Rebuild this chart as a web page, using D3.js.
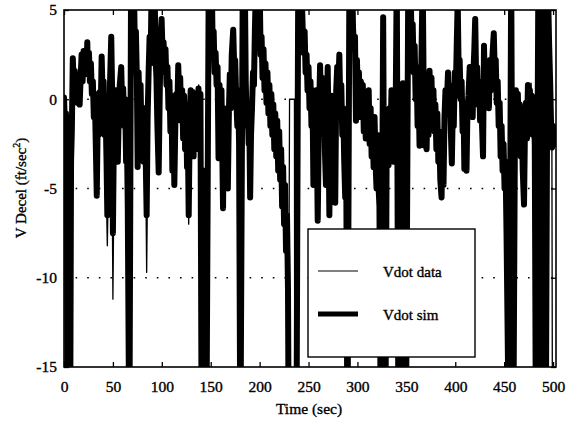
<!DOCTYPE html>
<html>
<head>
<meta charset="utf-8">
<script src="https://cdn.jsdelivr.net/npm/d3@7"></script>
<style>
  html, body { margin: 0; padding: 0; background: #fff; }
  svg { display: block; }
  text { font-family: "Liberation Serif", "Times New Roman", serif; fill: #000; }
  .lbl { stroke: #000; stroke-width: 0.35px; }
</style>
</head>
<body>
<svg id="chart" width="577" height="426"></svg>
<script>
// Axis ticks and reference levels
const xTicks = [0, 50, 100, 150, 200, 250, 300, 350, 400, 450, 500];
const yTicks = [-15, -10, -5, 0, 5];
const gridLevels = [-10, -5, 0];
const seriesNames = ["Vdot data", "Vdot sim"];

// Simulated deceleration, [time (sec), Vdot (ft/sec^2)]; excursions past the limits are clipped by the axes
const vdotSim = [
  [0, 0.1], [1, -1.5], [2, -0.8], [3, -4.5], [4.2, -20], [6.2, -20], [7.2, -3.5], [8, -1.8], [9, 2.3], [10, 0.8],
  [11, 1.6], [12, 0.0], [13, 1.0], [14, -0.2], [15, 0.9], [16, -0.3], [17, 1.2], [18, 2.5], [19, 1.0], [20, 2.7],
  [21, 1.4], [22, 2.6], [23, 1.6], [23.8, 3.2], [24.5, 1.4], [25.5, 2.6], [26.5, 1.0], [27.5, 2.0], [28.5, 0.3], [29.5, 1.0],
  [30.5, -1.0], [31.5, 0.3], [32.5, -2.5], [33.5, -5.4], [34.5, -1.0], [35.5, -2.0], [36.5, 0.4], [37.5, -0.8], [38.5, 2.4], [39.5, 0.2],
  [40.5, 1.0], [41.5, -2.0], [42.5, -0.5], [43.5, -3.5], [44.3, -6.5], [45.2, -2.0], [46, -4.0], [47, 0.8], [48.3, 3.5], [49.2, 0.5],
  [50, -7.5], [51, -2.0], [52, -3.5], [53, 0.5], [54, -1.5], [55, -3.5], [56, -0.8], [57, 0.8], [58.5, 1.8], [59.5, -0.5],
  [60.5, 0.6], [61.5, -1.5], [62.5, 0.0], [63.5, -3.5], [64.3, -2.0], [65.2, -6.0], [66.8, -20], [68.6, 7], [70.5, 5.5], [71.5, 6.5],
  [72.5, 2.5], [73.5, 3.8], [74.5, 1.2], [75.3, -3.8], [76.3, 1.5], [77.3, -1.5], [78.3, 0.8], [79.3, -2.5], [80.3, -1.0], [81.3, -3.5],
  [82.3, -0.5], [83.3, -2.5], [84.5, -6.5], [85.5, -1.0], [86.5, 1.5], [87.5, 3.5], [88.5, 2.0], [89.8, 7], [91.2, 5.5], [92.5, 7],
  [93.5, 2.5], [94.5, 1.2], [95.5, -1.5], [96.8, -4.1], [97.8, 0.0], [98.8, 3.5], [99.8, 4.5], [100.8, 2.5], [101.8, 3.2], [102.8, 1.5],
  [103.8, 2.8], [104.8, 0.8], [105.8, 1.8], [106.8, -0.5], [107.8, 1.0], [108.8, -1.8], [109.8, 0.2], [110.8, -4.0], [111.8, -0.8], [112.8, -4.8],
  [113.8, -1.5], [114.8, 0.3], [115.8, -0.8], [116.8, 1.9], [117.8, 0.0], [118.8, 1.2], [119.8, -1.2], [120.8, 0.5], [121.8, -2.2], [122.8, 0.2],
  [123.8, -2.8], [124.8, -0.3], [125.8, -3.8], [126.6, -2.0], [127.5, -6.5], [128.5, -1.5], [129.5, 0.5], [130.5, -2.0], [131.5, 0.4], [132.5, -3.2],
  [133.5, 0.2], [134.5, -2.8], [135.5, -0.5], [136.5, -1.8], [137.5, 0.6], [138.5, -2.0], [139.5, 0.3], [140.8, -20], [143.5, -4.0], [145.5, -20],
  [148, 7], [151, 7], [152, 2.8], [153, 3.8], [154, 1.5], [155, 2.6], [156, 0.8], [157, 1.8], [158, -3.3], [159, 0.8],
  [160, -0.8], [161, 0.5], [162.6, -6.1], [163.5, -0.5], [164.5, -3.5], [165.5, -0.8], [166.5, -3.0], [167.5, -5.0], [168.5, -1.0], [169.5, 1.4],
  [170.5, -0.5], [171.5, 2.5], [173, 3.9], [174, 1.8], [175, 2.2], [176, 0.2], [177.2, -1.5], [178, 0.5], [179, -2.5], [180.3, -20],
  [182.8, 7], [184.8, 7], [185.8, 1.0], [186.8, -1.5], [187.8, -0.5], [188.8, -2.5], [189.5, -1.5], [190.3, -5.5], [191.2, -2.0], [192.2, -0.5],
  [193.2, 1.5], [194.2, 0.8], [195.2, 4.0], [196.5, 7], [198.5, 4.5], [200, 6.5], [201, 2.5], [202, 3.5], [203, 1.2], [204, 2.8],
  [205, 0.5], [206, 2.0], [207, -0.2], [208, 1.5], [209, -0.8], [210, 0.8], [211, -1.5], [212, 0.3], [213, -2.0], [214, -0.3],
  [215, -2.8], [216, -0.8], [217, -3.2], [218, -1.2], [219, -4.0], [220, -1.8], [221, -4.5], [222, -2.8], [223, -6.0], [224, -3.8],
  [225, -7.0], [226, -4.8], [227, -8.5], [228, -6.5], [229, -10.6], [229.8, -20], [237.6, -20], [239.5, 7], [241, 6], [242.5, 7],
  [244, 4.0], [245, 2.6], [246, 3.8], [247, 1.5], [248, 2.5], [249, 0.5], [250, 1.8], [251, -0.5], [252, 1.0], [253, -1.5],
  [254, 0.5], [255, -4.8], [256, -0.5], [257, -3.0], [258, 0.5], [259.4, -6.8], [260.5, -1.5], [261.8, 1.9], [262.8, -0.5], [263.8, 1.2],
  [264.8, -2.0], [265.8, 0.5], [266.8, -3.0], [267.8, -4.8], [268.8, -1.0], [269.6, 1.8], [270.4, -1.5], [271.3, -6.5], [272.3, -1.5], [273.3, 0.2],
  [274.3, -3.0], [275.3, -0.8], [276.3, -4.0], [277.3, -5.8], [278.3, 0.5], [279.3, 1.8], [280.5, 0.8], [281.5, 2.5], [282.5, -0.5], [283.5, 0.8],
  [284.5, -2.0], [285.5, -0.5], [286.5, -3.5], [287.5, -5.5], [288.5, -3.0], [289.8, -20], [291.8, 7], [294.5, 7], [295.5, 4.0], [296.5, 2.8],
  [297.5, 3.5], [298.5, -1.2], [299.5, 2.2], [300.5, 0.2], [301.5, 1.5], [302.5, -1.0], [303.5, 1.0], [304.5, -1.0], [305.5, 0.8], [306.5, -1.8],
  [307.5, 0.3], [308.5, -2.2], [309.5, -0.2], [310.5, -1.8], [311.5, 0.5], [312.5, -2.5], [313.5, -0.5], [314.5, -3.2], [315.5, -1.0], [316.5, -3.8],
  [317.5, -1.0], [318.5, -3.5], [319.5, -5.0], [320.5, -2.0], [321.5, -4.8], [322.5, -6.0], [324, -20], [326.3, 4.6], [328.5, -20], [329.8, -3.5],
  [330.8, -1.0], [331.8, -3.7], [332.8, -0.5], [333.8, -2.5], [334.8, 0.5], [335.8, -2.0], [336.8, -3.5], [337.8, -0.5], [338.8, -2.5], [340.2, 7],
  [342, -20], [344, -20], [345.5, -1.0], [346.5, 0.9], [347.5, -2.3], [349.5, -20], [352, 7], [354, 7], [355.5, 3.0], [356.5, 4.2],
  [357.5, 1.5], [358.5, 3.0], [359.5, 0.0], [360.5, 1.8], [361.5, -1.5], [362.5, 0.5], [363.5, -2.6], [364.5, -0.5], [365.5, 2.5], [366.7, 7],
  [367.7, 0.5], [368.7, -2.6], [369.7, -0.5], [370.7, -2.8], [371.7, 0.0], [372.7, -2.0], [373.7, 1.6], [374.7, -0.3], [375.7, 1.2], [376.7, -1.2],
  [377.7, 0.5], [378.7, -1.8], [379.7, -0.3], [380.7, -2.8], [381.7, -0.8], [382.7, -3.5], [383.7, -1.8], [384.7, -4.5], [386, -5.5], [387, -2.5],
  [388, -4.8], [389, -1.0], [390, 0.5], [391, -0.8], [392.6, 1.5], [393.5, -0.8], [394.5, 0.8], [395.5, -1.8], [396.5, -3.6], [397.5, -0.5],
  [398.5, -1.5], [399.5, 1.5], [400.5, 0.2], [401.5, 3.0], [402.5, 5.5], [403.5, 1.5], [404.5, 2.2], [405.5, 0.0], [406.5, 1.0], [407.5, -1.8],
  [408.5, -0.5], [409.3, -3.9], [410.3, -1.0], [411.5, -4.0], [412.5, -0.5], [413.5, 0.2], [414.8, 1.8], [415.8, -0.5], [416.8, 1.2], [417.8, -1.0],
  [418.8, 1.8], [419.5, 2.8], [420.4, 4.5], [421.4, 1.0], [422.4, 1.8], [423.4, -0.3], [424.4, 1.0], [425.4, -1.2], [426.4, 0.5], [427.4, -1.5],
  [428.4, -3.2], [429.4, 3.0], [430.4, 0.0], [431.4, 2.0], [432.4, -0.3], [433.4, 1.8], [434.4, -0.5], [435.4, 2.2], [436.4, 0.5], [437.4, 1.8],
  [438.4, 2.8], [439.4, 3.7], [440.4, 1.5], [441.4, 2.2], [442.4, -0.2], [443.4, 1.0], [444.4, -1.5], [445.4, -0.2], [446.4, -3.2], [447.4, -1.5],
  [448.4, -4.0], [449.4, -2.5], [450.4, -5.0], [451.4, -3.5], [452.4, -7.4], [455, -20], [457.2, 7], [459.3, -20], [461, -2.0], [462, 0.5],
  [463, -2.0], [464, 0.3], [465, -2.5], [466, -0.3], [467, -3.2], [468, -1.2], [469, -4.0], [470.3, -5.9], [471.3, -1.5], [472.3, -0.2],
  [473.3, -2.2], [474.3, 0.8], [475.3, -1.0], [476.3, 0.5], [477.3, -1.5], [478.3, 0.2], [479.3, -2.0], [480.3, -0.5], [481.3, -2.5], [482.5, -20],
  [485, 7], [487, -20], [489.5, 7], [491, 7], [492.5, -20], [494.5, 7], [496, 3.0], [497, 1.0], [498, -1.5], [499, -2.7],
  [500, -1.5], [501, -2.5], [502, -1.8], [503, -2.5]
];

// Measured deceleration, [time (sec), Vdot (ft/sec^2)]
const vdotData = [
  [0, 0], [0.8, -0.5], [1.3, -20], [5.5, -20], [7, -2.0], [8, -1.5], [9.5, 2.0], [12, 0.5], [15, 0.3], [18, 2.2],
  [21, 2.0], [23.5, 3.0], [26, 2.0], [29, 0.5], [31, 0.0], [33.5, -5.5], [35, -1.0], [38.5, 2.2], [41, -0.5], [42.5, -3.0],
  [44.3, -8.2], [46, -2.5], [48.3, 3.3], [50, -11.2], [51.5, -2.0], [54, -1.0], [55, -3.5], [58, 1.2], [61, 0.0], [63.5, -4.0],
  [65, -6.5], [66.5, -20], [68.5, 7], [71, 6], [73, 2.5], [75.3, -3.5], [78, 0.0], [80.3, -3.0], [83, -0.5], [84.5, -9.7],
  [86.5, 1.0], [89.8, 7], [92.5, 7], [94.5, 1.0], [96.8, -4.0], [99.8, 4.3], [102, 2.5], [105, 1.0], [108, -1.0], [110.8, -4.0],
  [112.8, -4.5], [115, 0.0], [117, 1.7], [120, 0.0], [123, -1.0], [125.8, -3.2], [127.5, -7.0], [129.5, 0.0], [132.5, -2.5], [135, -1.0],
  [137.7, 0.8], [139.5, 0.0], [141, -20], [146.5, -20], [148.2, 7], [151, 7], [153, 2.2], [156, 1.5], [158, -3.0], [160, 0.0],
  [162.6, -6.1], [165, -1.5], [167.5, -4.8], [169.5, 1.2], [173, 3.7], [175, 1.0], [177.2, -0.5], [179, -1.5], [180.5, -20], [182.8, 7],
  [184.8, 7], [186.5, -0.5], [190.3, -5.3], [193, 1.0], [196.5, 7], [200, 6], [202, 2.0], [205, 1.0], [208, 0.8], [211, -0.5],
  [214, -1.0], [217, -2.2], [220, -2.5], [223, -5.0], [226, -5.5], [228.5, -10.0], [229.3, -20], [230.6, 0.0], [235.6, 0.0], [235.9, -20],
  [237.8, -20], [239.6, 7], [243, 7], [245, 3.2], [248, 1.6], [251, 1.0], [253, 0.0], [255, -4.5], [257, -2.0], [259.4, -6.5],
  [261.8, 1.7], [264, 0.5], [267.8, -4.5], [269.6, 1.6], [271.3, -6.3], [273.3, -0.8], [277.3, -5.5], [280.5, 2.3], [283, -1.0], [285.5, -3.0],
  [287.5, -5.3], [289.6, -20], [291.9, 7], [294.3, 7], [296.5, 3.3], [298.5, -1.0], [300, 1.8], [303.5, 0.7], [306.5, -1.0], [309, -0.8],
  [312.5, -1.8], [314.5, -2.5], [316.5, -3.3], [319.5, -4.8], [322.5, -5.8], [324.1, -20], [326.3, 4.4], [328.4, -20], [330, -3.0], [331.8, -3.5],
  [334.8, 0.3], [336.8, -3.3], [338.8, -1.8], [340.2, 7], [341.9, -20], [344.1, -20], [345.6, -1.2], [346.5, 0.7], [347.6, -2.1], [349.6, -20],
  [352, 7], [354, 7], [356.5, 3.8], [359.5, 0.6], [363.5, -2.4], [365.5, 2.3], [366.7, 7], [368.7, -2.4], [371, -1.0], [373.7, 1.3],
  [377, 0.0], [379.7, -2.3], [381.7, -2.8], [384.7, -4.3], [386, -5.5], [388, -4.3], [390, 0.3], [392.6, 1.3], [396.5, -3.4], [399.5, 1.3],
  [402.5, 5.5], [404.5, 0.6], [407.5, -1.6], [409.3, -3.7], [411.5, -3.8], [414.8, 1.5], [418, 0.0], [420.4, 4.3], [422.4, 0.3], [425, 0.4],
  [428.4, -3.0], [429.4, 2.8], [432, 0.5], [435.4, 2.0], [439.4, 3.5], [441.4, 0.6], [443.4, -0.8], [446.4, -3.0], [448.4, -3.8], [450.4, -4.8],
  [452.4, -7.2], [455.1, -20], [457.2, 7], [459.2, -20], [461, -1.8], [464, 0.1], [467, -2.8], [470.3, -5.7], [472.3, -0.6], [474.3, 0.7],
  [476.3, 0.4], [477.5, 0.9], [479.3, -1.3], [481.3, -2.3], [482.6, -20], [485, 7], [487.1, -20], [489.4, 7], [491, 7], [492.6, -20],
  [494.4, 7], [496, 2.8], [498, -1.3], [498.8, -2.5], [499.4, -20], [503, -20]
];

const svg = d3.select("#chart");
const plot = { left: 64, right: 556, top: 10, bottom: 367 };

const x = d3.scaleLinear().domain([0, 503]).range([plot.left, plot.right]);
const y = d3.scaleLinear().domain([-15, 5]).range([plot.bottom, plot.top]);
const fmt = d => String(d);

svg.append("defs").append("clipPath").attr("id", "plot-clip")
  .append("rect")
  .attr("x", plot.left).attr("y", plot.top)
  .attr("width", plot.right - plot.left).attr("height", plot.bottom - plot.top);

// Dotted reference lines
svg.append("g").selectAll("line").data(gridLevels).join("line")
  .attr("x1", plot.left).attr("x2", plot.right)
  .attr("y1", d => y(d)).attr("y2", d => y(d))
  .attr("stroke", "#000").attr("stroke-width", 1.6)
  .attr("stroke-dasharray", "1.6 10");

const line = d3.line().x(d => x(d[0])).y(d => y(d[1]));

const traces = svg.append("g").attr("clip-path", "url(#plot-clip)");
traces.append("path").datum(vdotSim)
  .attr("d", line).attr("fill", "none").attr("stroke", "#000")
  .attr("stroke-width", 6).attr("stroke-linejoin", "round").attr("stroke-linecap", "round");
traces.append("path").datum(vdotData)
  .attr("d", line).attr("fill", "none").attr("stroke", "#000")
  .attr("stroke-width", 1.3).attr("stroke-linejoin", "round");

// Axes with inward ticks on all four sides
function styleAxis(g) {
  g.select(".domain").remove();
  g.selectAll(".tick line").attr("stroke", "#000").attr("stroke-width", 1.3);
  g.selectAll(".tick text").attr("class", "lbl").attr("font-size", 15.5)
    .attr("font-family", "Liberation Serif, serif");
}
svg.append("g").attr("transform", `translate(0,${plot.bottom})`)
  .call(d3.axisBottom(x).tickValues(xTicks).tickSize(-5).tickPadding(13.5).tickFormat(fmt))
  .call(styleAxis);
svg.append("g").attr("transform", `translate(0,${plot.top})`)
  .call(d3.axisTop(x).tickValues(xTicks).tickSize(-5).tickFormat(""))
  .call(styleAxis);
svg.append("g").attr("transform", `translate(${plot.left},0)`)
  .call(d3.axisLeft(y).tickValues(yTicks).tickSize(-5).tickPadding(7).tickFormat(fmt))
  .call(styleAxis);
svg.append("g").attr("transform", `translate(${plot.right},0)`)
  .call(d3.axisRight(y).tickValues(yTicks).tickSize(-5).tickFormat(""))
  .call(styleAxis);

// Frame
svg.append("rect")
  .attr("x", plot.left).attr("y", plot.top)
  .attr("width", plot.right - plot.left).attr("height", plot.bottom - plot.top)
  .attr("fill", "none").attr("stroke", "#000").attr("stroke-width", 1.6);

// Axis titles
svg.append("text").attr("class", "lbl")
  .attr("x", (plot.left + plot.right) / 2 - 1).attr("y", 414)
  .attr("text-anchor", "middle").attr("font-size", 15.5)
  .text("Time (sec)");

const yTitle = svg.append("text").attr("class", "lbl")
  .attr("transform", "translate(26,188) rotate(-90)")
  .attr("text-anchor", "middle").attr("font-size", 15);
yTitle.append("tspan").text("V Decel (ft/sec");
yTitle.append("tspan").attr("font-size", 10).attr("dy", -6).text("2");
yTitle.append("tspan").attr("dy", 6).text(")");

// Legend
const legend = svg.append("g");
legend.append("rect")
  .attr("x", 308).attr("y", 229).attr("width", 167).attr("height", 128)
  .attr("fill", "#fff").attr("stroke", "#000").attr("stroke-width", 1.4);
const legendRows = [
  { name: seriesNames[0], width: 1.2, yy: 271 },
  { name: seriesNames[1], width: 5, yy: 314 }
];
legendRows.forEach(r => {
  legend.append("line")
    .attr("x1", 318).attr("x2", 358).attr("y1", r.yy).attr("y2", r.yy)
    .attr("stroke", "#000").attr("stroke-width", r.width);
  legend.append("text").attr("class", "lbl")
    .attr("x", 383).attr("y", r.yy + 6).attr("font-size", 15)
    .text(r.name);
});
</script>
</body>
</html>
